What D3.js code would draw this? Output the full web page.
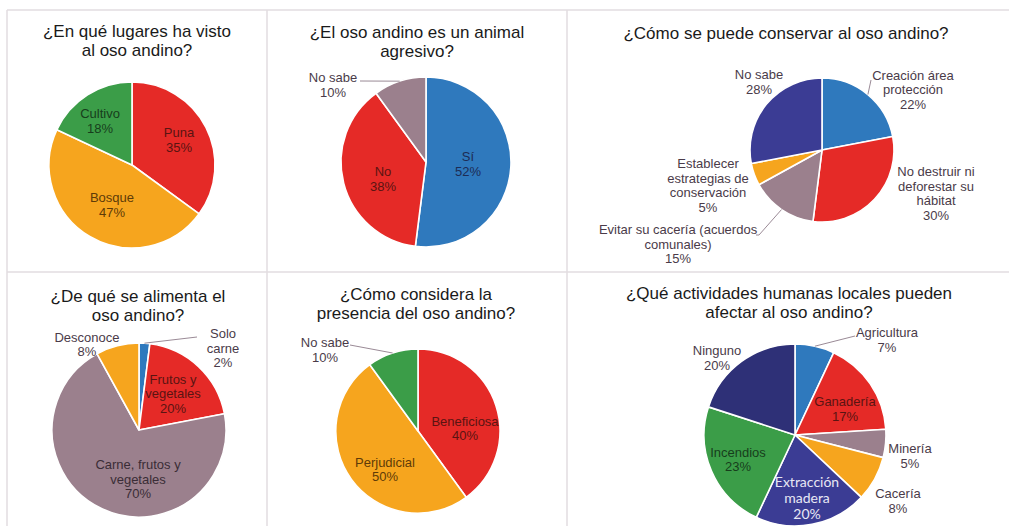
<!DOCTYPE html>
<html>
<head>
<meta charset="utf-8">
<script src="https://cdn.jsdelivr.net/npm/d3@7"></script>
<style>
  html, body { margin:0; padding:0; background:#fff; }
  svg { display:block; font-family: Arial, "Liberation Sans", sans-serif; }
</style>
</head>
<body>
<svg id="chart" width="1009" height="526"></svg>
<script>
/* ---------- data ---------- */
const lugaresCats = ["Puna","Bosque","Cultivo"];
const lugaresVals = [35,47,18];

const agresivoCats = ["Sí","No","No sabe"];
const agresivoVals = [52,38,10];

const conservarCats = ["Creación área protección","No destruir ni deforestar su hábitat",
  "Evitar su cacería (acuerdos comunales)","Establecer estrategias de conservación","No sabe"];
const conservarVals = [22,30,15,5,28];

const alimentaCats = ["Solo carne","Frutos y vegetales","Carne, frutos y vegetales","Desconoce"];
const alimentaVals = [2,20,70,8];

const presenciaCats = ["Beneficiosa","Perjudicial","No sabe"];
const presenciaVals = [40,50,10];

const actividadesCats = ["Agricultura","Ganadería","Minería","Cacería","Extracción madera","Incendios","Ninguno"];
const actividadesVals = [7,17,5,8,20,23,20];

/* ---------- styles ---------- */
const PAL = {
  blue:   {fill:"#2f79bd", text:"#1d2c55"},
  red:    {fill:"#e52a27", text:"#5a1412"},
  orange: {fill:"#f6a51e", text:"#5e3b08"},
  green:  {fill:"#3b9d48", text:"#173d1c"},
  mauve:  {fill:"#9b808d", text:"#3a2d36"},
  navy:   {fill:"#3b3c94", text:"#e8e8f4"},
  dnavy:  {fill:"#2e3077", text:"#e8e8f4"}
};
const OUT_TEXT = "#4a3b49";

/* layout for each panel: pie centre/radius, title, label blocks (offset from centre) */
const panels = [
  { cats:lugaresCats, vals:lugaresVals, cx:132, cy:165, r:83,
    title:["¿En qué lugares ha visto","al oso andino?"], tx:137, ty:31,
    colors:["red","orange","green"],
    labels:[
      {lines:["Puna","35%"], dx:47, dy:-25},
      {lines:["Bosque","47%"], dx:-20, dy:40},
      {lines:["Cultivo","18%"], dx:-32, dy:-44}
    ]},
  { cats:agresivoCats, vals:agresivoVals, cx:426, cy:162, r:85,
    title:["¿El oso andino es un animal","agresivo?"], tx:417, ty:32,
    colors:["blue","red","mauve"],
    labels:[
      {lines:["Sí","52%"], dx:42, dy:2},
      {lines:["No","38%"], dx:-43, dy:17},
      {lines:["No sabe","10%"], dx:-93, dy:-77, out:true, lead:[[-66,-81]]}
    ]},
  { cats:conservarCats, vals:conservarVals, cx:822, cy:150, r:72,
    title:["¿Cómo se puede conservar al oso andino?"], tx:786, ty:33,
    colors:["blue","red","mauve","orange","navy"],
    labels:[
      {lines:["Creación área","protección","22%"], dx:91, dy:-60.5, out:true, lead:[[49,-70]]},
      {lines:["No destruir ni","deforestar su","hábitat","30%"], dx:114, dy:43.5, out:true},
      {lines:["Evitar su cacería (acuerdos","comunales)","15%"], dx:-144, dy:94, out:true, lead:[[-63,85],[-66,85]]},
      {lines:["Establecer","estrategias de","conservación","5%"], dx:-114, dy:35.5, out:true},
      {lines:["No sabe","28%"], dx:-63, dy:-68, out:true}
    ]},
  { cats:alimentaCats, vals:alimentaVals, cx:139, cy:430, r:87,
    title:["¿De qué se alimenta el","oso andino?"], tx:138, ty:296,
    colors:["blue","red","mauve","orange"],
    labels:[
      {lines:["Solo","carne","2%"], dx:84, dy:-82, out:true, lead:[[58,-93]]},
      {lines:["Frutos y","vegetales","20%"], dx:34, dy:-36.5},
      {lines:["Carne, frutos y","vegetales","70%"], dx:-1, dy:49},
      {lines:["Desconoce","8%"], dx:-52, dy:-85.5, out:true}
    ]},
  { cats:presenciaCats, vals:presenciaVals, cx:418, cy:431, r:82,
    title:["¿Cómo considera la","presencia del oso andino?"], tx:416, ty:294,
    colors:["red","orange","green"],
    labels:[
      {lines:["Beneficiosa","40%"], dx:47, dy:-2.5},
      {lines:["Perjudicial","50%"], dx:-33, dy:38.5},
      {lines:["No sabe","10%"], dx:-93, dy:-81, out:true, lead:[[-68,-86]]}
    ]},
  { cats:actividadesCats, vals:actividadesVals, cx:795, cy:435, r:91,
    title:["¿Qué actividades humanas locales pueden","afectar al oso andino?"], tx:789, ty:293,
    colors:["blue","red","mauve","orange","navy","green","dnavy"],
    labels:[
      {lines:["Agricultura","7%"], dx:92, dy:-95, out:true, lead:[[60,-99]]},
      {lines:["Ganadería","17%"], dx:50, dy:-26},
      {lines:["Minería","5%"], dx:115, dy:21, out:true},
      {lines:["Cacería","8%"], dx:103, dy:66, out:true},
      {lines:["Extracción","madera","20%"], dx:12, dy:63, alt:true},
      {lines:["Incendios","23%"], dx:-57, dy:24.5},
      {lines:["Ninguno","20%"], dx:-78, dy:-77, out:true}
    ]}
];

const svg = d3.select("#chart");

/* ---------- panel frames ---------- */
const frame = svg.append("g").attr("stroke","#e2dde1").attr("stroke-width",1.5);
[[7,10,1009,10],[7,272,1009,272],[7,10,7,526],[267,10,267,526],[567,10,567,526]]
  .forEach(([x1,y1,x2,y2]) => frame.append("line").attr("x1",x1).attr("y1",y1).attr("x2",x2).attr("y2",y2));

/* ---------- pies ---------- */
const pie = d3.pie().sort(null).value(d => d);

panels.forEach(p => {
  const g = svg.append("g").attr("transform",`translate(${p.cx},${p.cy})`);
  const arc = d3.arc().innerRadius(0).outerRadius(p.r);
  const arcs = pie(p.vals);

  g.selectAll("path.slice").data(arcs).enter().append("path")
    .attr("class","slice")
    .attr("d",arc)
    .attr("fill",(d,i) => PAL[p.colors[i]].fill)
    .attr("stroke","#fff").attr("stroke-width",1.6).attr("stroke-linejoin","round");

  /* leader lines start on the arc at the slice middle */
  arcs.forEach((a,i) => {
    const lb = p.labels[i];
    if (!lb.lead) return;
    const m = (a.startAngle + a.endAngle)/2;
    const pts = [[Math.sin(m)*p.r, -Math.cos(m)*p.r], ...lb.lead];
    g.append("path").attr("d", d3.line()(pts))
      .attr("fill","none").attr("stroke","#9a8a96").attr("stroke-width",1);
  });

  /* labels */
  const lh = 14.5;
  p.labels.forEach((lb,i) => {
    const col = lb.out ? OUT_TEXT : PAL[p.colors[i]].text;
    const t = g.append("text").attr("text-anchor","middle")
      .attr("fill",col)
      .style("font-size", lb.alt ? "14px" : "13px")
      .style("font-family", lb.alt ? "Lato, 'Open Sans', sans-serif" : null);
    const h = lb.alt ? 16 : lh;
    lb.lines.forEach((s,k) => {
      t.append("tspan").attr("x",lb.dx)
        .attr("y", lb.dy + (k - (lb.lines.length-1)/2)*h)
        .attr("dy","0.36em").text(s);
    });
  });

  /* title */
  const tt = svg.append("text").attr("text-anchor","middle").attr("fill","#1a1a1a")
    .style("font-size","17px");
  p.title.forEach((s,k) => {
    tt.append("tspan").attr("x",p.tx).attr("y",p.ty + k*19).attr("dy","0.36em").text(s);
  });
});
</script>
</body>
</html>
